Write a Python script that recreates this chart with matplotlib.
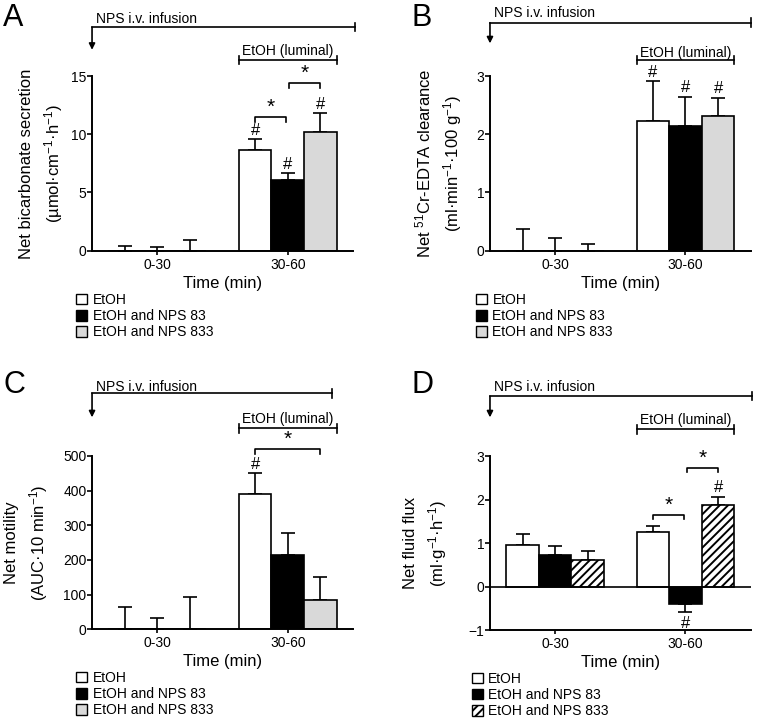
import numpy as np
import matplotlib
matplotlib.use('Agg')
import matplotlib.pyplot as plt
from matplotlib.patches import Patch

plt.rcParams['font.family'] = ['Liberation Sans', 'DejaVu Sans']
plt.rcParams['mathtext.fontset'] = 'custom'
plt.rcParams['mathtext.rm'] = 'Liberation Sans'
plt.rcParams['mathtext.it'] = 'Liberation Sans:italic'
plt.rcParams['hatch.linewidth'] = 1.4

# data: rows = time groups, columns = series
groups = ['0-30', '30-60']
series = ['EtOH', 'EtOH and NPS 83', 'EtOH and NPS 833']

bicarb_mean = [[0.0, 0.0, 0.0], [8.65, 6.04, 10.19]]
bicarb_sem = [[0.43, 0.32, 0.89], [0.91, 0.60, 1.60]]

edta_mean = [[0.0, 0.0, 0.0], [2.22, 2.14, 2.32]]
edta_sem = [[0.37, 0.22, 0.12], [0.69, 0.50, 0.30]]

motility_mean = [[0.0, 0.0, 0.0], [390, 213, 85]]
motility_sem = [[64, 32, 93], [60, 65, 66]]

fluid_mean = [[0.95, 0.72, 0.62], [1.25, -0.40, 1.88]]
fluid_sem = [[0.27, 0.21, 0.20], [0.15, 0.18, 0.19]]

fig = plt.figure(figsize=(7.6, 7.24), dpi=100)

centers = np.array([0, 4])
offsets = [-1, 0, 1]
grey_fills = ['white', 'black', '#d9d9d9']
hatch_fills = ['white', 'black', 'white']
lw = 1.2


def draw_panel(ax, means, sems, fills, hatches, ylim, yticks, ylabel, lay):
    means = np.array(means, dtype=float)
    sems = np.array(sems, dtype=float)
    handles = []
    for i in range(3):
        x = centers + offsets[i]
        v = means[:, i]
        e = sems[:, i]
        ax.bar(x, v, width=1, color=fills[i], edgecolor='k', lw=lw,
               hatch=hatches[i], zorder=2)
        up = np.where(v >= 0, e, 0)
        lo = np.where(v < 0, e, 0)
        ax.errorbar(x, v, yerr=[lo, up], fmt='none', ecolor='k',
                    elinewidth=lw, capsize=5, capthick=lw, zorder=1)
        handles.append(Patch(facecolor=fills[i], edgecolor='k', lw=1,
                             hatch=hatches[i]))
    ax.set_xlim(-2, 6)
    ax.set_ylim(*ylim)
    ax.set_yticks(yticks)
    ax.set_xticks(centers)
    ax.set_xticklabels(groups)
    ax.tick_params(labelsize=10, width=lw)
    ax.tick_params(axis='y', length=3.5, pad=0.5)
    ax.tick_params(axis='x', length=3, pad=2)
    for s in ['top', 'right']:
        ax.spines[s].set_visible(False)
    for s in ['left', 'bottom']:
        ax.spines[s].set_linewidth(1.4)
    ax.set_ylabel(ylabel, fontsize=12, linespacing=1.45)
    ax.yaxis.set_label_coords(lay['ylab'], 0.5)
    ax.set_xlabel('Time (min)', fontsize=12, labelpad=3)

    # treatment annotations above the plot
    tr = ax.get_xaxis_transform()
    y_inf, y_tip, x_end, y_nps = lay['inf'], lay['tip'], lay['end'], lay['nps']
    ax.plot([-2, x_end], [y_inf, y_inf], color='k', lw=lw, transform=tr,
            clip_on=False)
    ax.plot([x_end, x_end], [y_inf - 0.025, y_inf + 0.025], color='k', lw=lw,
            transform=tr, clip_on=False)
    ax.annotate('', xy=(-2, y_tip), xytext=(-2, y_inf), xycoords=tr,
                textcoords=tr, arrowprops=dict(arrowstyle='-|>', color='k',
                                               lw=lw, mutation_scale=9,
                                               shrinkA=0, shrinkB=0))
    ax.text(-1.87, y_nps, 'NPS i.v. infusion', transform=tr, fontsize=10,
            ha='left', va='baseline')
    y_et = lay['etoh']
    ax.plot([2.5, 5.5], [y_et, y_et], color='k', lw=lw, transform=tr,
            clip_on=False)
    for xe in [2.5, 5.5]:
        ax.plot([xe, xe], [y_et - 0.025, y_et + 0.025], color='k', lw=lw,
                transform=tr, clip_on=False)
    ax.text(4, lay['etoh_txt'], 'EtOH (luminal)', transform=tr, fontsize=10,
            ha='center', va='baseline')
    return handles


def hash_mark(ax, x, y, below=False):
    ax.text(x, y, '#', ha='center', va='top' if below else 'bottom',
            fontsize=12, clip_on=False)


def bracket(ax, x1, x2, y, d):
    ax.plot([x1, x1, x2, x2], [y - d, y, y, y - d], color='k', lw=lw,
            clip_on=False)
    ax.text((x1 + x2) / 2, y, '*', ha='center', va='bottom', fontsize=15,
            clip_on=False)


def legend(ax, handles, x, y):
    ax.legend(handles, series, loc='upper left', bbox_to_anchor=(x, y),
              bbox_transform=fig.transFigure, frameon=False, fontsize=10,
              handlelength=0.8, handleheight=0.8, handletextpad=0.4,
              labelspacing=0.15, borderpad=0, borderaxespad=0)


no_hatch = [None, None, None]

# A
axA = fig.add_axes([0.1211, 0.6537, 0.3434, 0.2413])
hA = draw_panel(axA, bicarb_mean, bicarb_sem, grey_fills, no_hatch, (0, 15),
                [0, 5, 10, 15],
                'Net bicarbonate secretion\n(µmol·cm$^{-1}$·h$^{-1}$)',
                dict(inf=1.28, tip=1.15, end=6.05, nps=1.305, etoh=1.092,
                     etoh_txt=1.12, ylab=-0.105))
m = np.array(bicarb_mean)[1] + np.array(bicarb_sem)[1]
for i in range(3):
    hash_mark(axA, 4 + offsets[i], m[i] + 0.15)
bracket(axA, 3.0, 3.95, 11.5, 0.45)
bracket(axA, 4.05, 5.0, 14.4, 0.4)
legend(axA, hA, 0.1, 0.5953)

# B
axB = fig.add_axes([0.6447, 0.6537, 0.3430, 0.2413])
hB = draw_panel(axB, edta_mean, edta_sem, grey_fills, no_hatch, (0, 3),
                [0, 1, 2, 3],
                'Net $^{51}$Cr-EDTA clearance\n(ml·min$^{-1}$·100 g$^{-1}$)',
                dict(inf=1.305, tip=1.187, end=6.0, nps=1.339, etoh=1.092,
                     etoh_txt=1.111, ylab=-0.0996))
m = np.array(edta_mean)[1] + np.array(edta_sem)[1]
for i in range(3):
    hash_mark(axB, 4 + offsets[i], m[i] + 0.03)
legend(axB, hB, 0.626, 0.5953)

# C
axC = fig.add_axes([0.1211, 0.1308, 0.3434, 0.2394])
hC = draw_panel(axC, motility_mean, motility_sem, grey_fills, no_hatch,
                (0, 500), [0, 100, 200, 300, 400, 500],
                'Net motility\n(AUC·10 min$^{-1}$)',
                dict(inf=1.362, tip=1.223, end=5.35, nps=1.377, etoh=1.16,
                     etoh_txt=1.189, ylab=-0.161))
m = np.array(motility_mean)[1] + np.array(motility_sem)[1]
hash_mark(axC, 3, m[0] + 5)
bracket(axC, 3.0, 5.0, 521, 15)
legend(axC, hC, 0.1, 0.0732)

# D
axD = fig.add_axes([0.6447, 0.1294, 0.3430, 0.2407])
hD = draw_panel(axD, fluid_mean, fluid_sem, hatch_fills, [None, None, '////'],
                (-1, 3), [-1, 0, 1, 2, 3],
                'Net fluid flux\n(ml·g$^{-1}$·h$^{-1}$)',
                dict(inf=1.344, tip=1.222, end=6.05, nps=1.375, etoh=1.153,
                     etoh_txt=1.184, ylab=-0.157))
axD.axhline(0, color='k', lw=lw, zorder=3)
fm = np.array(fluid_mean)[1]
fs = np.array(fluid_sem)[1]
hash_mark(axD, 5, fm[2] + fs[2] + 0.03)
hash_mark(axD, 4, fm[1] - fs[1] - 0.09, below=True)
bracket(axD, 3.0, 3.95, 1.65, 0.1)
bracket(axD, 4.05, 5.0, 2.73, 0.1)
legend(axD, hD, 0.6206, 0.072)

# panel letters
for x, y, t in [(0.004, 0.964, 'A'), (0.542, 0.964, 'B'),
                (0.004, 0.457, 'C'), (0.542, 0.457, 'D')]:
    fig.text(x, y, t, fontsize=22, va='baseline', ha='left')

plt.savefig('out.png', dpi=100)
